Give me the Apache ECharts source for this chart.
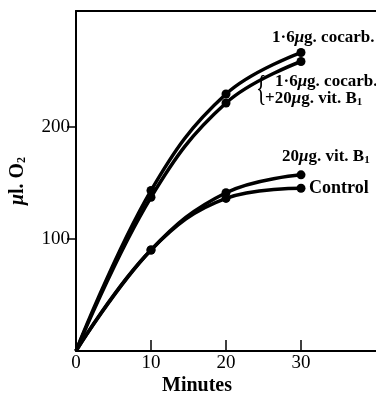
<!DOCTYPE html>
<html>
<head>
<meta charset="utf-8">
<script src="https://cdn.jsdelivr.net/npm/echarts@6/dist/echarts.min.js"></script>
<style>
  html, body { margin: 0; padding: 0; background: #fff; }
  #chart { width: 376px; height: 397px; }
</style>
</head>
<body>
<div id="chart"></div>
<script>
const minutes = [0, 10, 20, 30];
const cocarb = [0, 143, 229, 266];
const cocarbVit = [0, 137, 221, 258];
const vitB1 = [0, 90, 141, 157];
const control = [0, 90, 136, 145];
const xTickLabels = [0, 10, 20, 30];
const yTickLabels = [100, 200];

const serif = '"Liberation Serif", "DejaVu Serif", serif';

function pairs(ys) {
    return ys.map((y, i) => ({
        value: [minutes[i], y],
        symbol: i === 0 ? 'none' : 'circle'
    }));
}

function curve(name, ys) {
    return {
        name: name,
        type: 'line',
        data: pairs(ys),
        smooth: 0.4,
        symbolSize: 9,
        lineStyle: { color: '#000', width: 3.5 },
        itemStyle: { color: '#000' },
        z: 3
    };
}

// rich styles for the curve labels: bold serif, italic mu, small subscript
const labelRich = {
    a: { font: 'bold 17px ' + serif, fill: '#000' },
    m: { font: 'italic bold 17px ' + serif, fill: '#000' },
    s: { font: 'bold 11px ' + serif, fill: '#000', padding: [7, 0, 0, 0] }
};

let chart = echarts.init(document.getElementById('chart'));

const option = {
    animation: false,
    backgroundColor: '#fff',
    grid: { left: 76, right: 0, top: 11, bottom: 46 },
    xAxis: [{
        type: 'value',
        min: 0,
        max: 40,
        axisLine: { lineStyle: { color: '#000', width: 2 } },
        axisTick: { inside: true, length: 11, customValues: [10, 20, 30], lineStyle: { color: '#000', width: 1.5 } },
        axisLabel: { customValues: xTickLabels, color: '#000', fontFamily: serif, fontSize: 19, margin: 3 },
        splitLine: { show: false }
    }, {
        type: 'value',
        position: 'top',
        min: 0,
        max: 40,
        axisLine: { show: true, lineStyle: { color: '#000', width: 2 } },
        axisTick: { show: false },
        axisLabel: { show: false },
        splitLine: { show: false }
    }],
    yAxis: {
        type: 'value',
        min: 0,
        max: 303,
        axisLine: { show: true, lineStyle: { color: '#000', width: 2 } },
        axisTick: { show: true, length: 9, customValues: yTickLabels, lineStyle: { color: '#000', width: 1.5 } },
        axisLabel: { customValues: yTickLabels, color: '#000', fontFamily: serif, fontSize: 19, margin: 6 },
        splitLine: { show: false },
        name: '{m|μ}{a|l. O}{s|2}',
        nameLocation: 'middle',
        nameRotate: 90,
        nameGap: 48,
        nameTextStyle: {
            rich: {
                m: { fontFamily: serif, fontStyle: 'italic', fontWeight: 'bold', fontSize: 20, color: '#000' },
                a: { fontFamily: serif, fontWeight: 'bold', fontSize: 20, color: '#000' },
                s: { fontFamily: serif, fontWeight: 'bold', fontSize: 12, color: '#000', padding: [8, 0, 0, 0] }
            }
        }
    },
    series: [
        curve('1·6μg. cocarb.', cocarb),
        curve('1·6μg. cocarb. +20μg. vit. B1', cocarbVit),
        curve('20μg. vit. B1', vitB1),
        curve('Control', control)
    ],
    graphic: [
        {
            type: 'text', left: 272, top: 29,
            style: { text: '{a|1·6}{m|μ}{a|g. cocarb.}', rich: labelRich }
        },
        {
            type: 'text', left: 275, top: 73,
            style: { text: '{a|1·6}{m|μ}{a|g. cocarb.}', rich: labelRich }
        },
        {
            type: 'text', left: 265, top: 90,
            style: { text: '{a|+20}{m|μ}{a|g. vit. B}{s|1}', rich: labelRich }
        },
        {
            type: 'text', left: 256, top: 73, scaleX: 0.6,
            style: { text: '{', font: '36px ' + serif, fill: '#000' }
        },
        {
            type: 'text', left: 282, top: 148,
            style: { text: '{a|20}{m|μ}{a|g. vit. B}{s|1}', rich: labelRich }
        },
        {
            type: 'text', left: 309, top: 179,
            style: { text: 'Control', font: 'bold 18px ' + serif, fill: '#000' }
        },
        {
            type: 'text', left: 162, top: 376,
            style: { text: 'Minutes', font: 'bold 20px ' + serif, fill: '#000' }
        }
    ]
};

chart.setOption(option);
</script>
</body>
</html>
